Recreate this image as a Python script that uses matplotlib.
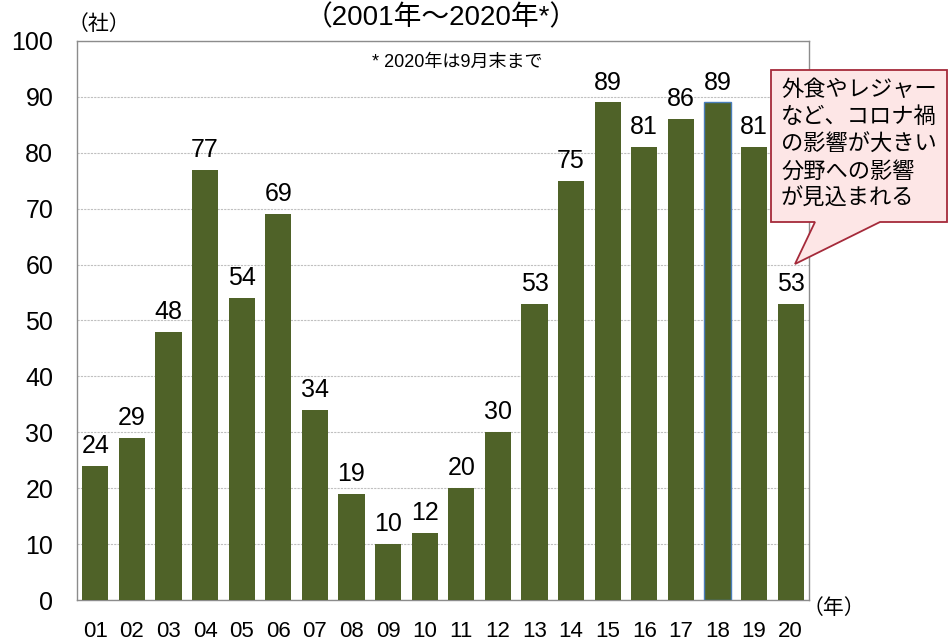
import numpy as np
import matplotlib.pyplot as plt
from matplotlib.patches import Polygon

plt.rcParams['font.family'] = ['Liberation Sans', 'Noto Sans CJK JP']

# data
years = ['01', '02', '03', '04', '05', '06', '07', '08', '09', '10',
         '11', '12', '13', '14', '15', '16', '17', '18', '19', '20']
counts = [24, 29, 48, 77, 54, 69, 34, 19, 10, 12,
          20, 30, 53, 75, 89, 81, 86, 89, 81, 53]

fig = plt.figure(figsize=(9.49, 6.4), dpi=100)
ax = fig.add_axes([0.0811, 0.0625, 0.7714, 0.8735])

x = np.arange(len(years))
bars = ax.bar(x, counts, width=0.72, color='#4F6228', zorder=3)
bars[17].set_edgecolor('#4A7EBB')
bars[17].set_linewidth(1.0)

for xi, v in zip(x, counts):
    ax.text(xi, v + 1.4, str(v), ha='center', va='bottom', fontsize=18)

ax.set_xlim(-0.5, len(years) - 0.5)
ax.set_ylim(0, 100)
ax.set_yticks(range(0, 101, 10))
ax.set_xticks(x)
ax.set_xticklabels(years)
ax.tick_params(axis='y', length=0, labelsize=18, pad=17)
ax.tick_params(axis='x', length=0, labelsize=16, pad=15)
ax.yaxis.grid(True, linestyle=(0, (2, 1)), color='#C0C0C0', linewidth=0.8, zorder=0)
for s in ['left', 'bottom', 'right', 'top']:
    ax.spines[s].set_color('#8C8C8C')
    ax.spines[s].set_linewidth(1.0)

fig.text(0.071, 0.962, '（社）', fontsize=15, ha='left', va='center')
fig.text(0.465, 0.971, '（2001年～2020年*）', fontsize=20, ha='center', va='center')
fig.text(0.392, 0.902, '* 2020年は9月末まで', fontsize=13, ha='left', va='center')
fig.text(0.846, 0.05, '（年）', fontsize=15, ha='left', va='center')

# callout
W, H = 949, 640
pts = [(771, 70), (947, 70), (947, 222), (880, 222), (795, 264), (815, 222), (771, 222)]
poly = Polygon([(px / W, 1 - py / H) for px, py in pts], closed=True,
               transform=fig.transFigure, facecolor='#FDE6E6', edgecolor='#A52A3A',
               linewidth=1.3, zorder=5)
fig.add_artist(poly)
fig.text(781 / W, 1 - 145 / H, '外食やレジャー\nなど、コロナ禍\nの影響が大きい\n分野への影響\nが見込まれる',
         fontsize=16, ha='left', va='center', linespacing=1.38, zorder=6)

fig.savefig('out.png', dpi=100)
